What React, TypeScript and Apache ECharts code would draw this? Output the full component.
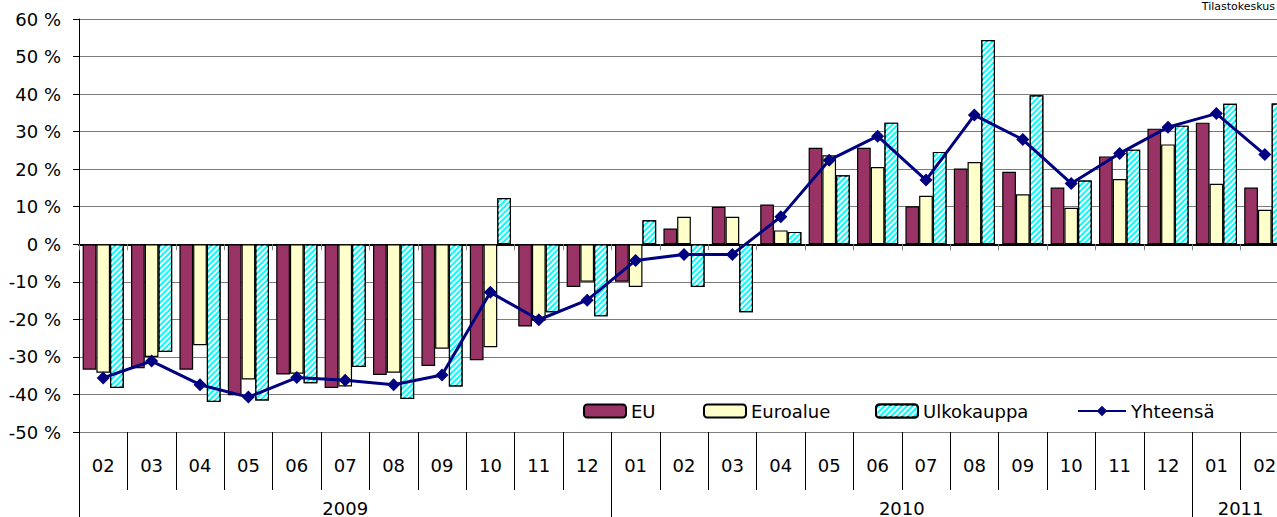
import React, { useEffect, useRef } from 'react';
import * as echarts from 'echarts';

const months = ['02', '03', '04', '05', '06', '07', '08', '09', '10', '11', '12', '01', '02', '03', '04', '05', '06', '07', '08', '09', '10', '11', '12', '01', '02'];
const years = ['2009', '2009', '2009', '2009', '2009', '2009', '2009', '2009', '2009', '2009', '2009', '2010', '2010', '2010', '2010', '2010', '2010', '2010', '2010', '2010', '2010', '2010', '2010', '2011', '2011'];

const eu = [-33.4, -33.0, -33.4, -40.2, -34.7, -38.3, -34.8, -32.4, -30.9, -21.9, -11.4, -10.0, 4.2, 10.0, 10.6, 25.7, 25.7, 10.1, 20.2, 19.3, 15.1, 23.4, 30.8, 32.4, 15.1];
const euroalue = [-34.2, -30.0, -26.9, -36.0, -34.5, -37.9, -34.2, -27.8, -27.4, -20.4, -10.0, -11.4, 7.3, 7.3, 3.7, 23.7, 20.6, 12.9, 21.9, 13.3, 9.7, 17.4, 26.6, 16.1, 9.2];
const ulkokauppa = [-38.3, -28.7, -42.0, -41.6, -37.0, -32.7, -41.2, -37.9, 12.3, -18.1, -19.2, 6.4, -11.4, -18.1, 3.3, 18.4, 32.4, 24.6, 54.4, 39.7, 17.0, 25.2, 31.6, 37.4, 37.5];
const yhteensa = [-35.6, -31.1, -37.4, -40.7, -35.5, -36.2, -37.4, -34.8, -12.8, -20.1, -14.9, -4.3, -2.7, -2.7, 7.3, 22.4, 28.8, 17.1, 34.4, 27.9, 16.2, 24.2, 31.2, 34.8, 23.9];

const yMin = -50;
const yMax = 60;
const yStep = 10;
const sourceNote = 'Tilastokeskus';

const FONT = 'DejaVu Sans';
const CHART_W = 1300;

export default function App() {
  const ref = useRef<HTMLDivElement>(null);

  useEffect(() => {
    const chart = echarts.init(ref.current!, null, { renderer: 'svg' });
    const legendBase = {
      orient: 'horizontal',
      top: 402,
      padding: 0,
      itemHeight: 13,
      itemWidth: 42,
      itemGap: 8,
      textStyle: { fontFamily: FONT, fontSize: 18, color: '#000' },
    };
    chart.setOption({
      animation: false,
      backgroundColor: '#fff',
      textStyle: { fontFamily: FONT },
      grid: { left: 79, top: 19, right: CHART_W - 1289, height: 413, containLabel: false },
      legend: [
        { ...legendBase, left: 583, data: ['EU'] },
        { ...legendBase, left: 703, data: ['Euroalue'] },
        { ...legendBase, left: 875, data: ['Ulkokauppa'] },
        { ...legendBase, left: 1077, itemWidth: 48, data: ['Yhteensä'] },
      ],
      xAxis: [
        {
          type: 'category',
          data: months,
          position: 'bottom',
          boundaryGap: true,
          axisLine: { show: true, onZero: false, lineStyle: { color: '#808080', width: 1 } },
          axisTick: { show: true, interval: 0, length: 58, alignWithLabel: false, lineStyle: { color: '#000', width: 1 } },
          axisLabel: { interval: 0, margin: 24, fontSize: 18, color: '#000', fontFamily: FONT },
          splitLine: { show: false },
        },
        {
          type: 'category',
          data: months,
          position: 'bottom',
          boundaryGap: true,
          axisLine: { show: true, onZero: true, lineStyle: { color: '#000', width: 2 } },
          axisTick: { show: true, interval: 0, length: 6, alignWithLabel: false, lineStyle: { color: '#808080', width: 1 } },
          axisLabel: { show: false },
          splitLine: { show: false },
        },
      ],
      yAxis: {
        type: 'value',
        min: yMin,
        max: yMax,
        interval: yStep,
        axisLine: { show: true, lineStyle: { color: '#000', width: 1 } },
        axisTick: { show: true, length: 6, lineStyle: { color: '#000' } },
        axisLabel: { margin: 18, fontSize: 18, color: '#000', fontFamily: FONT, formatter: (v: number) => `${v} %` },
        splitLine: { show: true, lineStyle: { color: '#7a7a7a', width: 1 } },
      },
      series: [
        {
          name: 'EU',
          type: 'bar',
          data: eu,
          barGap: '0%',
          barCategoryGap: '15%',
          itemStyle: { color: '#993366', borderColor: '#000', borderWidth: 1.2 },
        },
        {
          name: 'Euroalue',
          type: 'bar',
          data: euroalue,
          itemStyle: { color: '#FFFFCC', borderColor: '#000', borderWidth: 1.2 },
        },
        {
          name: 'Ulkokauppa',
          type: 'bar',
          data: ulkokauppa,
          itemStyle: {
            color: '#00FFFF',
            borderColor: '#000',
            borderWidth: 1.2,
            decal: {
              symbol: 'rect',
              symbolSize: 1,
              dashArrayX: [[1, 0]],
              dashArrayY: [2, 2],
              rotation: -Math.PI / 4,
              color: '#ffffff',
            },
          },
        },
        {
          name: 'Yhteensä',
          type: 'line',
          data: yhteensa,
          z: 5,
          symbol: 'diamond',
          symbolSize: 13,
          lineStyle: { color: '#000080', width: 3 },
          itemStyle: { color: '#000080' },
        },
      ],
    });

    // Year groups drawn from the category axis scale
    const c0 = chart.convertToPixel({ xAxisIndex: 0 }, 0) as number;
    const c1 = chart.convertToPixel({ xAxisIndex: 0 }, 1) as number;
    const w = c1 - c0;
    const yBottom = chart.convertToPixel({ yAxisIndex: 0 }, yMin) as number;
    const groups: { label: string; start: number; end: number }[] = [];
    years.forEach((y, i) => {
      const g = groups[groups.length - 1];
      if (g && g.label === y) g.end = i;
      else groups.push({ label: y, start: i, end: i });
    });
    const graphic: any[] = [];
    groups.forEach((g) => {
      const x0 = (chart.convertToPixel({ xAxisIndex: 0 }, g.start) as number) - w / 2;
      const x1 = (chart.convertToPixel({ xAxisIndex: 0 }, g.end) as number) + w / 2;
      graphic.push({
        type: 'line',
        shape: { x1: Math.round(x0) + 0.5, y1: yBottom, x2: Math.round(x0) + 0.5, y2: 517 },
        style: { stroke: '#000', lineWidth: 1 },
        silent: true,
      });
      graphic.push({
        type: 'text',
        x: (x0 + x1) / 2,
        y: 508,
        style: { text: g.label, fill: '#000', fontSize: 18, fontFamily: FONT, textAlign: 'center', textVerticalAlign: 'middle' },
        silent: true,
      });
    });
    graphic.push({
      type: 'text',
      x: 1275,
      y: 1,
      style: { text: sourceNote, fill: '#000', fontSize: 11, fontFamily: FONT, textAlign: 'right', textVerticalAlign: 'top' },
      silent: true,
    });
    chart.setOption({ graphic });

    return () => chart.dispose();
  }, []);

  return (
    <div style={{ position: 'fixed', left: 0, top: 0, width: 1277, height: 517, overflow: 'hidden', background: '#fff' }}>
      <div ref={ref} style={{ width: CHART_W, height: 517 }} />
    </div>
  );
}
